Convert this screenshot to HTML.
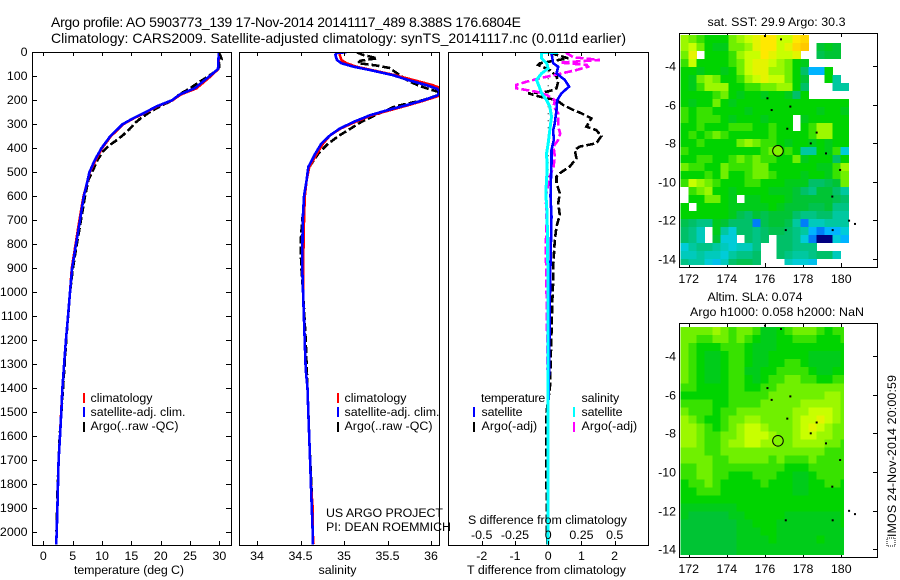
<!DOCTYPE html>
<html lang="en">
<head>
<meta charset="utf-8">
<title>Argo profile 5903773_139</title>
<style>
html,body{margin:0;padding:0;background:#fff;}
svg{display:block;}
text{font-family:"Liberation Sans",sans-serif;font-size:12.4px;fill:#000;}
.title{font-size:14px;}
.box{fill:none;stroke:#000;stroke-width:1;shape-rendering:crispEdges;}
</style>
</head>
<body>
<svg id="fig" xmlns="http://www.w3.org/2000/svg" width="900" height="580" viewBox="0 0 900 580">
  <rect width="900" height="580" fill="#fff"/>
  <defs>
    <clipPath id="clip-m1"><rect x="680" y="35" width="198" height="230"/></clipPath>
    <clipPath id="clip-m2"><rect x="680" y="326" width="164" height="229"/></clipPath>
    <clipPath id="clip-p2"><rect x="239" y="52" width="201" height="493"/></clipPath>
    <clipPath id="clip-p3"><rect x="448" y="52" width="201" height="493"/></clipPath>
  </defs>
  <text class="title" x="51" y="27" textLength="470" lengthAdjust="spacing">Argo profile: AO 5903773_139 17-Nov-2014 20141117_489 8.388S 176.6804E</text>
  <text class="title" x="51" y="43" textLength="575" lengthAdjust="spacing">Climatology: CARS2009. Satellite-adjusted climatology: synTS_20141117.nc (0.011d earlier)</text>

  <g id="map1"></g>
  <g id="map2"></g>
  <g id="p1"></g>
  <g id="p2"></g>
  <g id="p3"></g>

  <text x="74" y="574" textLength="110">temperature (deg C)</text>
  <text x="318.5" y="574" textLength="38">salinity</text>
  <text x="467" y="574" textLength="159">T difference from climatology</text>
  <text x="468" y="524" textLength="159">S difference from climatology</text>

  <g>
    <line x1="84" x2="84" y1="393" y2="403" stroke="#f00" stroke-width="2"/>
    <line x1="84" x2="84" y1="407" y2="417" stroke="#00f" stroke-width="2"/>
    <line x1="84" x2="84" y1="422" y2="432" stroke="#000" stroke-width="2"/>
    <text x="90.5" y="402" textLength="62">climatology</text>
    <text x="90.5" y="416" textLength="95">satellite-adj. clim.</text>
    <text x="90.5" y="430" textLength="88">Argo(..raw -QC)</text>
  </g>
  <g>
    <line x1="338" x2="338" y1="393" y2="403" stroke="#f00" stroke-width="2"/>
    <line x1="338" x2="338" y1="407" y2="417" stroke="#00f" stroke-width="2"/>
    <line x1="338" x2="338" y1="422" y2="432" stroke="#000" stroke-width="2"/>
    <text x="344.5" y="402" textLength="62">climatology</text>
    <text x="344.5" y="416" textLength="95">satellite-adj. clim.</text>
    <text x="344.5" y="430" textLength="88">Argo(..raw -QC)</text>
  </g>
  <g>
    <text x="481" y="402" textLength="64.3">temperature</text>
    <line x1="474" x2="474" y1="407" y2="417" stroke="#00f" stroke-width="2"/>
    <line x1="474" x2="474" y1="422" y2="432" stroke="#000" stroke-width="2"/>
    <text x="481.5" y="416" textLength="41">satellite</text>
    <text x="481.5" y="430" textLength="55.7">Argo(-adj)</text>
    <text x="581.5" y="402" textLength="37.7">salinity</text>
    <line x1="574" x2="574" y1="407" y2="417" stroke="#0ff" stroke-width="2"/>
    <line x1="574" x2="574" y1="422" y2="432" stroke="#f0f" stroke-width="2"/>
    <text x="581.5" y="416" textLength="41">satellite</text>
    <text x="581.5" y="430" textLength="55.7">Argo(-adj)</text>
  </g>
  <text x="326" y="517" textLength="117">US ARGO PROJECT</text>
  <text x="326" y="531" textLength="125">PI: DEAN ROEMMICH</text>

  <text x="707.5" y="26" textLength="138">sat. SST: 29.9 Argo: 30.3</text>
  <text x="707.5" y="301" textLength="95">Altim. SLA: 0.074</text>
  <text x="690" y="316" textLength="174">Argo h1000: 0.058 h2000: NaN</text>

  <rect x="887" y="538" width="8" height="8" fill="none" stroke="#000" stroke-width="1" stroke-dasharray="1 1"/>
  <text transform="translate(896,537) rotate(-90)" x="0" y="0" textLength="162">IMOS 24-Nov-2014 20:00:59</text>
</svg>
<script>
// ---------- profile data (depth in dbar) ----------
const depthT = [0,70,100,150,175,200,225,250,275,300,350,400,450,500,550,600,700,800,900,1000,1100,1200,1300,1400,1500,1600,1700,1800,1900,2000,2050];
const climT  = [29.9,29.8,28.5,26.1,23.5,22.0,19.4,17.5,15.4,13.6,11.5,10.0,8.9,7.9,7.4,6.85,6.15,5.5,4.85,4.55,4.2,3.85,3.55,3.25,3.05,2.85,2.6,2.5,2.4,2.28,2.2];
const satT   = [29.9,29.76,28.3,25.8,23.3,21.9,19.3,17.4,15.3,13.5,11.4,9.9,8.75,7.85,7.4,6.9,6.25,5.57,4.9,4.55,4.2,3.85,3.55,3.25,3.07,2.85,2.6,2.5,2.4,2.28,2.2];
const depthArgoT = [0,15,30,45,60,75,100,130,150,175,200,225,250,275,295,320,345,370,390,415,450,490,530,600,700,800,900,1000,1200,1400,1600,1800,2000];
const argoT  = [29.9,30.2,30.4,29.9,30.0,29.6,28.1,26.2,25.0,23.2,22.0,19.9,18.1,16.6,15.6,14.7,13.6,12.3,11.1,10.1,9.2,8.5,7.7,7.1,6.4,5.7,5.05,4.55,3.9,3.35,2.8,2.45,2.25];

const depthS = [0,2,10,32,46,60,74,95,116,137,152,166,180,200,220,242,262,290,318,346,380,422,478,533,600,700,895,1005,1320,1400,1500,1600,1700,1800,1900,2000,2050];
const satS   = [35.03,34.92,34.9,34.92,34.97,35.11,35.3,35.56,35.74,35.95,36.07,36.1,36.07,35.91,35.72,35.49,35.3,35.11,34.95,34.84,34.74,34.67,34.59,34.57,34.54,34.525,34.52,34.53,34.56,34.58,34.59,34.6,34.61,34.62,34.63,34.64,34.64];
const climS  = [34.97,34.95,34.95,34.97,35.03,35.14,35.32,35.58,35.8,36.02,36.13,36.14,36.1,35.93,35.74,35.52,35.32,35.13,34.96,34.84,34.76,34.69,34.6,34.57,34.55,34.54,34.53,34.53,34.56,34.58,34.59,34.6,34.61,34.62,34.64,34.64,34.65];
const depthArgoS = [0,10,25,35,45,55,65,80,100,120,140,155,165,180,200,225,262,290,346,380,420,478,530,600,700,800,900,1000,1200,1400,1600,1800,2000];
const argoS  = [35.15,35.21,35.38,35.19,35.16,35.37,35.52,35.58,35.66,35.74,35.87,35.99,36.09,36.07,35.9,35.59,35.36,35.2,34.95,34.82,34.71,34.6,34.57,34.55,34.52,34.5,34.51,34.53,34.56,34.58,34.6,34.625,34.64];

const depthDT = [0,4,46,60,88,115,143,171,199,240,296,324,365,407,462,532,601,685,879,1018,1300,1500,2050];
const satDT   = [0.1,0.1,0.15,0.3,0.25,0.5,0.63,0.4,0.27,0.25,0.2,0.15,0.17,0.1,0.1,0.08,0.07,0.1,0.07,0.05,0.03,0,0];
const depthArgoDT = [0,4,25,46,53,74,101,122,150,157,164,171,185,199,219,240,254,275,310,324,349,379,393,407,442,476,504,518,546,587,629,678,726,782,823,893,949,1018,1400,1500,1800,2050];
const argoDT = [0.1,0.1,0.6,-0.25,-0.3,0.05,0.25,0.3,0.25,0.15,-0.05,-0.6,-0.25,0.25,0.45,0.75,1.0,1.3,1.15,1.45,1.6,1.45,0.95,0.8,0.85,0.65,0.35,0.25,0.25,0.35,0.3,0.35,0.25,0.2,0.18,0.15,0.15,0.13,0.05,-0.05,-0.05,-0.03];

const depthSatDS = [0,2,25,46,67,88,115,143,171,199,226,268,324,379,421,490,587,671,1018,2050];
const satDS   = [0.075,-0.05,-0.05,-0.012,0,-0.05,-0.088,-0.068,-0.05,-0.012,0.012,0.025,0.012,0,-0.012,-0.008,-0.018,-0.008,0,0];
const depthArgoDS = [0,4,21,32,43,53,60,74,88,108,122,136,150,164,178,199,226,254,282,310,338,365,393,435,476,518,601,699,810,1018,1300,1600,2050];
const argoDS  = [0.14,0.14,0.19,0.39,0.09,0.29,0.3,0.21,0.1,-0.06,-0.16,-0.24,-0.24,-0.09,-0.01,0.05,0.04,0.075,0.075,0.075,0.09,0.075,0.04,0.05,0.04,0.012,-0.018,-0.012,-0.018,-0.012,-0.005,0,0];

const tempTicks = [0,5,10,15,20,25,30];
const salTicks  = [34,34.5,35,35.5,36];
const diffTTicks = [-2,-1,0,1,2];
const diffSTicks = [-0.5,-0.25,0,0.25,0.5];
const depthTicks = [0,100,200,300,400,500,600,700,800,900,1000,1100,1200,1300,1400,1500,1600,1700,1800,1900,2000];
const lonTicks = [172,174,176,178,180];
const latTicks = [-4,-6,-8,-10,-12,-14];

// ---------- map data: colour levels on 21 x 29 grid, north to south, null = no data ----------
const N = null;
const sstRows = [
[8.5,8,7.5,7,7,7,8,8.5,9,9.5,10,10,9,9,10,10.5,N,N,N,N,N],
[8.5,9,8,7,6.5,6.5,8,8,8.5,9.5,10,10,9,9.5,10.5,11,N,6,6.5,6,N],
[8,9.5,N,7,7,7,7.5,8.5,9,9,10,9.5,9,9,9.5,N,N,5.5,6,6,N],
[7.5,9,7,7,7,7,7.5,8,9,9.5,9.5,9,8.5,8,7,6.5,N,N,N,N,N],
[7,7,6.5,7,7,6.5,7,8,9,9.5,9.5,8.5,8.5,8,7,5,2,2,7,N,N],
[7,6.5,8,8.5,8,7,7,7.5,8.5,9,9.5,9,9,8,7,6,N,N,7,4,N],
[7,6.5,7.5,8.5,8.5,8.5,7,7,7.5,7.5,8,8,8.5,8.5,7,5,N,N,N,4,4],
[7,7,7,7,7.5,8,7,6.5,7,7,6.5,7,7,6.5,5,7,N,N,N,N,N],
[7,6.5,7,7,8,7,6.5,7,7,7,7,7,7,7,7,7,7,7,7,7,7],
[7.5,7,7.5,7.5,7,7,7,7,6.5,7,7,7,7,7,7,7,7,6.5,7,7,6.5],
[7.5,7,7.5,7.5,7.5,7,6.5,7,7,7,6.5,7,7,7,N,6.5,7,7,7,7,7],
[7,7,7.5,7,7,7,7.5,7.5,7.5,7,7,7.5,7,7,N,7,7.5,8.5,8.5,7,7],
[7,7.5,7,7.5,8,7.5,7,7,7,7,7,7.5,7,7,7,7,7.5,8.5,8.5,7,7],
[7,7,7.5,7,7,7,7,8,8.5,8,7.5,7.5,7,6.5,7,7,6.5,7,6.5,7,7],
[7.5,7,7,7,7,7,7,7,7,7,7.5,8,7,7.5,7,4,4,7,6.5,7.5,3],
[7,7,7.5,7.5,7,7,7.5,8,7.5,8,7.5,7.5,7,7,8,6.5,7,7,7,5,7],
[8,7.5,7.5,7,7,8,7.5,7.5,7.5,8,8,7,7,7,7,7,7,6.5,6.5,7.5,8.5],
[7,7,7,7.5,7,8,7,7,7.5,8,8,7.5,7,7,7,6.5,7,7,6.5,7.5,8],
[7.5,9,8.5,8,7.5,7,7,7,7.5,7.5,7,7,7,6.5,6.5,6.5,5,5,5.5,6,8],
[N,7.5,8,8.5,7,7,6.5,7,7,7,7,6.5,6.5,6.5,6,5,4.5,6,6,5,4],
[N,7,7,8,8,7,6.5,N,6.5,6.5,7,7,7,6.5,6,6,6,6,6,5.5,5],
[7,N,7,7,7,7,6.5,6.5,6.5,6.5,6.5,7,6.5,6,6,6,5.5,5.5,6,4.5,4.5],
[7,7,7,7,7,7,6.5,5.5,5,6,5.5,6,6,6,5,4.5,4.5,5,5,4,4],
[5.5,5,4.5,4.5,6.5,6,5,5,5,1.5,5.5,6,6,5.5,4,1.5,3.5,3.5,4,4,4],
[5,4.5,3.5,N,6.5,4,3,5,5,4.5,5,5.5,5.5,5,4.5,4,2,1.5,2,2,3],
[5,4.5,3.5,N,6,3,3,N,5,4.5,5,N,5,5,4.5,3,1.5,0,0,3,2],
[3,4,4.5,4.5,4,3.5,3,3.5,3.5,4.5,N,N,5,5,4.5,4.5,4.5,N,N,N,N],
[3.5,3.5,4,3.5,3.5,3,4,4.5,4.5,5,N,N,5,4.5,4,4,4.5,5,5,3.5,N],
[4.5,4,4,3,2.5,3.5,5,5.5,5.5,5,N,N,N,3.5,3,3,2.5,N,N,N,N]
];
const slaRows = [
[8,8,8,8,8.5,8,7.5,8,8,7.5,6.5,6.5,7,7.5,8,8,8,7.5,7,7.5,7.5],
[8,8,7.5,7.5,8,8,7.5,8,7.5,7,6.5,6.5,7,7,7.5,7.5,7.5,7,7,7,7.5],
[8,7.5,7,7,7,7.5,7.5,7.5,7,6.5,6.5,6.5,7,7,7,7,7,7,7,7,7],
[8,7.5,7,6.5,6.5,7,7.5,7.5,7,6.5,6.5,7,7,7,7,7,6.5,6.5,6.5,6.5,7],
[8,7.5,7,6.5,6.5,7,7.5,7.5,7,6.5,6.5,7,7,7.5,7.5,7,6.5,6.5,6.5,6.5,7],
[8,7.5,7,6.5,6.5,7,7.5,7.5,6.5,6.5,7,7,7.5,7.5,7.5,7.5,7,6.5,6.5,7,7],
[8,7.5,7,6.5,6.5,7,7.5,7.5,7,6.5,7,7.5,7.5,8,8,7.5,7.5,7,7,7.5,7.5],
[7.5,7.5,7,7,7,7,7.5,7.5,7,7,7.5,7.5,8,8,8,8,8,8,8,8,8],
[7,7,7,7,7,7,7.5,7.5,7.5,7.5,7.5,8,8,8,8,8,8,8,8.5,8.5,8],
[7.5,7.5,7.5,7.5,7,7,7.5,7.5,7.5,7.5,8,8,8,8,8,8.5,8.5,8.5,8.5,8.5,8],
[8,7.5,7.5,7.5,7,7.5,7.5,8,8,8,8,8,8,8,8.5,8.5,9,9,9,8.5,8],
[8.5,8,7.5,7,7,7.5,8,8,8.5,8.5,8,8,8,8,8.5,9,9,9.5,9,8.5,8],
[8.5,8.5,8,7.5,7,7.5,8,8.5,9,9,8.5,8,8,8,8.5,9,9.5,9,8.5,8,8],
[8.5,8.5,8,7.5,7.5,8,8,8.5,9,9,9,8.5,8,8,8.5,9,9,8.5,8.5,8,8],
[8.5,8.5,8,7.5,7.5,8,8.5,8.5,9,9,8.5,8.5,8,8,8.5,8.5,8.5,8.5,8,8,7.5],
[8,8,8,7.5,7.5,8,8,8,8,8,8,8,8,8,8,8,8,8,7.5,7.5,7.5],
[8,8,8,8,7.5,7.5,8,8,8,8,8,7.5,8,7.5,7.5,7.5,8,7.5,7.5,7.5,7.5],
[7.5,7.5,8,8,7.5,7.5,7.5,7.5,7.5,7.5,7.5,7.5,7.5,7,7,7,7.5,7.5,7.5,7.5,7.5],
[7.5,7.5,8,8,7.5,7.5,7,7,7,7.5,7.5,7.5,7,7,6.5,6.5,7,7.5,7.5,7.5,7.5],
[7,7.5,7.5,8,7.5,7,7,7,7,7,7.5,7,7,7,6.5,6.5,7,7,7.5,7.5,7],
[7,7,7.5,7.5,7.5,7,7,7,7,7,7,7,7,7,6.5,6.5,7,7,7,7,7],
[7,7,7,7,7,7,7,7,7,7,7,7,7,7,7,7,7,7,7,7,7],
[6.5,6.5,6.5,6.5,6.5,6.5,6.5,7,7,7,7,7,7,7,7,7,7,7,7,7,7],
[6.5,6,6,6,6,6,6.5,6.5,7,7,7,7,7,6.5,6.5,6.5,6.5,6.5,6.5,6.5,7],
[6,6,6,6,6,6,6,6.5,6.5,7,7,7,6.5,6.5,6.5,6.5,6.5,6.5,6.5,6.5,7],
[6,6,6,6,6,6,6,6.5,6.5,6.5,7,7,6.5,6.5,6.5,6.5,6.5,6.5,6.5,6.5,6.5],
[6,6,6,6,6,6,6,6.5,6.5,6.5,6.5,7,6.5,6.5,6.5,6.5,6.5,7,6.5,6.5,6.5],
[6,6,6,6,6,6,6,6.5,6.5,6.5,6.5,6.5,6.5,6.5,6.5,6.5,6.5,6.5,6.5,6.5,6.5],
[6,6,6,6,6,6,6,6.5,6.5,6.5,6.5,6.5,6.5,6.5,6.5,6.5,6.5,6.5,6.5,6.5,6.5]
];
const colourStops = ['#000080','#0048f0','#00b4ff','#00ccd8','#00c8a0','#00c068','#00c434','#00d400','#70f000','#c8ff00','#ffe800','#ffc800'];
const islandLons = [176.13,176.35,177.33,177.17,178.71,178.4,179.2,179.94,179.53,180.41,180.72,177.09,179.55,176.84,176];
const islandLats = [-5.66,-6.27,-6.09,-7.24,-7.44,-8.0,-8.52,-9.38,-10.76,-12.01,-12.18,-12.5,-12.5,-2.6,-2.43];
const argoLon = 176.68;
const argoLat = -8.388;
const argoLevel = 8.2;

// ---------- axis functions ----------
const depthY = d => 52.3 + 0.24 * d;
const tempX  = t => 43.3 + 5.87 * t;
const salX   = s => 257 + 87 * (s - 34);
const dTX    = v => 548.2 + 33.2 * v;
const dSX    = v => 548.2 + 133 * v;
const lonX   = l => 688.7 + 19.07 * (l - 172);
const latY1  = l => 66.3 - 19.27 * (l + 4);
const latY2  = l => 356 - 19.33 * (l + 4);
const SVGNS = 'http://www.w3.org/2000/svg';
const LW = 2.6;

function mk(tag, attrs, parent) {
  const el = document.createElementNS(SVGNS, tag);
  for (const k in attrs) el.setAttribute(k, attrs[k]);
  parent.appendChild(el);
  return el;
}
function hexToRgb(h) {
  return [parseInt(h.slice(1,3),16), parseInt(h.slice(3,5),16), parseInt(h.slice(5,7),16)];
}
function levelColour(v) {
  const c = Math.max(0, Math.min(colourStops.length - 1, v));
  const i = Math.floor(c);
  const j = Math.min(colourStops.length - 1, i + 1);
  const a = hexToRgb(colourStops[i]);
  const b = hexToRgb(colourStops[j]);
  const f = c - i;
  return 'rgb(' + a.map((x, n) => Math.round(x + (b[n] - x) * f)).join(',') + ')';
}
function drawLine(parent, name, depths, vals, xf, colour, width, dash, clip) {
  const pts = depths.map((d, i) => xf(vals[i]).toFixed(1) + ',' + depthY(d).toFixed(1)).join(' ');
  const attrs = {points: pts, fill: 'none', stroke: colour, 'stroke-width': width, 'shape-rendering': 'crispEdges'};
  if (dash) attrs['stroke-dasharray'] = dash;
  if (clip) attrs['clip-path'] = 'url(#' + clip + ')';
  const el = mk('polyline', attrs, parent);
  
  
}
function tick(parent, x1, y1, x2, y2) {
  const el = mk('line', {x1: x1, y1: y1, x2: x2, y2: y2, stroke: '#000', 'stroke-width': 1, 'shape-rendering': 'crispEdges'}, parent);
  
  
}
function label(parent, str, x, y, anchor, name) {
  const el = mk('text', {x: x, y: y, 'text-anchor': anchor}, parent);
  el.textContent = str;
  
  
}
function frame(parent, x, y, w, h) {
  const el = mk('rect', {x: x + 0.5, y: y + 0.5, width: w, height: h, class: 'box'}, parent);
  
  
}
function xTicks(parent, vals, xf, top, bottom, len) {
  vals.forEach(v => {
    const x = Math.round(xf(v)) + 0.5;
    tick(parent, x, top, x, top + len);
    tick(parent, x, bottom - len, x, bottom);
  });
}

// ---------- temperature panel ----------
const p1 = document.getElementById('p1');
drawLine(p1, 'argo-temperature-line', depthArgoT, argoT, tempX, '#000', LW, '8 3');
drawLine(p1, 'climatology-temperature-line', depthT, climT, tempX, '#f00', LW);
drawLine(p1, 'satellite-temperature-line', depthT, satT, tempX, '#00f', LW);
frame(p1, 32, 52, 199, 493);
xTicks(p1, tempTicks, tempX, 52, 545, 4);
depthTicks.forEach(d => {
  const y = Math.round(depthY(d)) + 0.5;
  tick(p1, 32, y, 37, y);
  tick(p1, 226, y, 231, y);
  label(p1, String(d), 27.5, y + 3.5, 'end', 'depth-tick-label');
});
tempTicks.forEach(t => label(p1, String(t), tempX(t), 560, 'middle', 'temperature-tick-label'));

// ---------- salinity panel ----------
const p2 = document.getElementById('p2');
drawLine(p2, 'argo-salinity-line', depthArgoS, argoS, salX, '#000', LW, '8 3', 'clip-p2');
drawLine(p2, 'climatology-salinity-line', depthS, climS, salX, '#f00', LW, null, 'clip-p2');
drawLine(p2, 'satellite-salinity-line', depthS, satS, salX, '#00f', LW, null, 'clip-p2');
frame(p2, 239, 52, 200, 493);
xTicks(p2, salTicks, salX, 52, 545, 4);
salTicks.forEach(s => label(p2, String(s), salX(s), 560, 'middle', 'salinity-tick-label'));

// ---------- difference panel ----------
const p3 = document.getElementById('p3');
const zeroLine = mk('line', {x1: dTX(0), x2: dTX(0), y1: depthY(50), y2: depthY(520), stroke: '#000', 'stroke-width': 1, 'stroke-dasharray': '1 6'}, p3);


drawLine(p3, 'argo-t-difference-line', depthArgoDT, argoDT, dTX, '#000', LW, '8 3', 'clip-p3');
drawLine(p3, 'argo-s-difference-line', depthArgoDS, argoDS, dSX, '#f0f', LW, '8 3', 'clip-p3');
drawLine(p3, 'satellite-t-difference-line', depthDT, satDT, dTX, '#00f', LW, null, 'clip-p3');
drawLine(p3, 'satellite-s-difference-line', depthSatDS, satDS, dSX, '#0ff', 3, null, 'clip-p3');
frame(p3, 448, 52, 200, 493);
xTicks(p3, diffTTicks, dTX, 52, 545, 4);
diffTTicks.forEach(v => label(p3, String(v), dTX(v), 560, 'middle', 't-difference-tick-label'));
diffSTicks.forEach(v => label(p3, String(v), dSX(v), 539, 'middle', 's-difference-tick-label'));

// ---------- maps ----------
function drawMap(gid, rows, latY, clip, top, bottom) {
  const g = document.getElementById(gid);
  frame(g, 679, top, 198, bottom - top);
  xTicks(g, lonTicks, lonX, top, bottom, 4);
  const cells = mk('g', {'clip-path': 'url(#' + clip + ')', 'shape-rendering': 'crispEdges'}, g);
  
  
  const startLon = 171.58;
  const stepLon = 8 / 19.07;
  const startLat = top === 33 ? -2.376 : -2.505;
  const stepLat = 0.415;
  rows.forEach((row, r) => {
    row.forEach((v, c) => {
      if (v === null) return;
      const x = lonX(startLon + c * stepLon);
      const y = latY(startLat - r * stepLat);
      const rect = mk('rect', {x: x.toFixed(1), y: y.toFixed(1), width: 8.2, height: 8.2, fill: levelColour(v)}, cells);
      
      
    });
  });
  islandLons.forEach((lon, i) => {
    const dot = mk('rect', {x: lonX(lon) - 1, y: latY(islandLats[i]) - 1, width: 2, height: 2, fill: '#000'}, g);
    
    
  });
  const ring = mk('circle', {cx: lonX(argoLon), cy: latY(argoLat), r: 5.3, fill: levelColour(argoLevel), stroke: '#000', 'stroke-width': 1}, g);
  
  
  lonTicks.forEach(l => label(g, String(l), lonX(l), bottom + 16, 'middle', 'longitude-tick-label'));
  latTicks.forEach(l => {
    const y = Math.round(latY(l)) + 0.5;
    tick(g, 873, y, 877, y);
    label(g, String(l), 676, y + 4, 'end', 'latitude-tick-label');
  });
}
drawMap('map1', sstRows, latY1, 'clip-m1', 33, 267);
drawMap('map2', slaRows, latY2, 'clip-m2', 323, 557);
</script>
</body>
</html>
